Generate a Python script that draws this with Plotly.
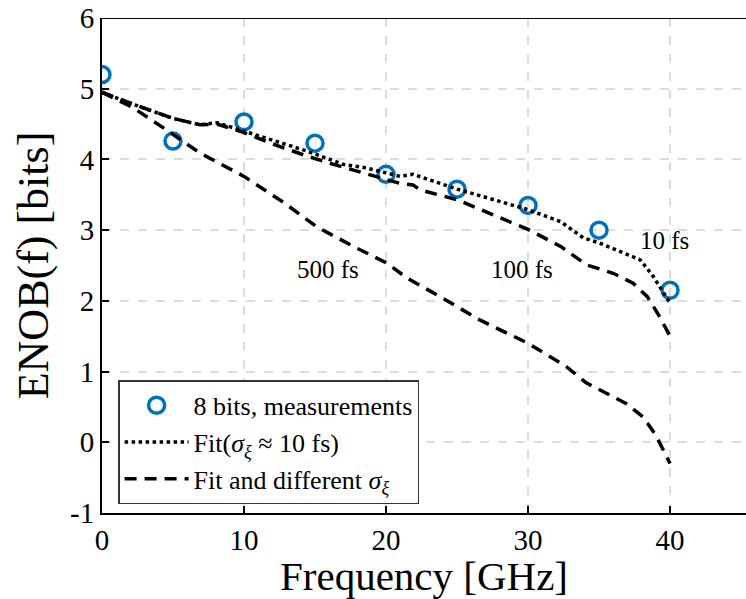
import plotly.graph_objects as go

# Measurements (8 bits)
meas_x = [0, 5, 10, 15, 20, 25, 30, 35, 40]
meas_y = [5.20, 4.26, 4.53, 4.23, 3.79, 3.58, 3.35, 3.00, 2.15]

# Fit, sigma ~ 10 fs (dotted)
fit10_x = [0, 2.2, 5, 6.9, 8.1, 10, 12, 14.4, 17, 18.6, 20, 21, 21.9, 23.3, 25, 27.6, 30, 32.3, 33.9, 35, 37.9, 38.8, 40]
fit10_y = [4.95, 4.78, 4.58, 4.49, 4.52, 4.40, 4.28, 4.12, 3.93, 3.88, 3.81, 3.76, 3.79, 3.69, 3.58, 3.43, 3.29, 3.12, 2.89, 2.82, 2.58, 2.35, 1.97]

# Fit, 100 fs (dashed)
fit100_x = [0, 2.2, 5, 6.9, 8.1, 10, 12, 14.4, 16.3, 18, 20, 21, 21.9, 22.4, 25, 27.5, 30, 32.3, 34.1, 36, 37.4, 38.4, 39.2, 40]
fit100_y = [4.95, 4.78, 4.58, 4.49, 4.50, 4.38, 4.22, 4.05, 3.93, 3.83, 3.72, 3.66, 3.64, 3.57, 3.43, 3.22, 3.01, 2.77, 2.51, 2.39, 2.25, 2.06, 1.80, 1.50]

# Fit, 500 fs (dashed)
fit500_x = [0, 2.2, 4.3, 6.9, 10, 12.8, 15.1, 17.7, 20, 21.5, 23.8, 26.6, 30, 32.7, 34.1, 36.9, 38.1, 39, 40]
fit500_y = [4.95, 4.73, 4.45, 4.09, 3.76, 3.39, 3.05, 2.77, 2.54, 2.32, 2.06, 1.73, 1.40, 1.07, 0.84, 0.55, 0.36, 0.10, -0.30]

labels_text = ["500 fs", "100 fs", "10 fs"]
labels_x = [15.9, 29.6, 39.6]
labels_y = [2.44, 2.44, 2.85]

x_ticks = [0, 10, 20, 30, 40]
y_ticks = [-1, 0, 1, 2, 3, 4, 5, 6]

FONT = "'Liberation Serif', 'Times New Roman', serif"
BLUE = "#0072BD"

fig = go.Figure()

fig.add_trace(go.Scatter(
    x=meas_x, y=meas_y, mode="markers", name="8 bits, measurements",
    marker=dict(symbol="circle-open", size=16, color=BLUE, line=dict(width=3.5, color=BLUE)),
))
fig.add_trace(go.Scatter(
    x=fit10_x, y=fit10_y, mode="lines",
    name="Fit(<i>σ</i><sub><i>ξ</i></sub> ≈ 10 fs)",
    line=dict(color="black", width=3.5, dash="dot"),
))
fig.add_trace(go.Scatter(
    x=fit100_x, y=fit100_y, mode="lines",
    name="Fit and different <i>σ</i><sub><i>ξ</i></sub>", legendgroup="diff",
    line=dict(color="black", width=3.5, dash="12px,8px"),
))
fig.add_trace(go.Scatter(
    x=fit500_x, y=fit500_y, mode="lines", showlegend=False, legendgroup="diff",
    line=dict(color="black", width=3.5, dash="12px,8px"),
))

for t, x, y in zip(labels_text, labels_x, labels_y):
    fig.add_annotation(x=x, y=y, text=t, showarrow=False,
                       font=dict(family=FONT, size=25, color="black"))

# top box line (MATLAB box)
fig.add_shape(type="line", xref="paper", yref="y", x0=0, x1=1, y0=6, y1=6,
              line=dict(color="black", width=2))

fig.update_layout(
    width=746, height=599,
    margin=dict(l=102, r=0, t=18, b=86),
    paper_bgcolor="white", plot_bgcolor="white",
    font=dict(family=FONT, color="black"),
    showlegend=True,
    legend=dict(
        x=0.025, y=0.268, xanchor="left", yanchor="top",
        bgcolor="white", bordercolor="#333", borderwidth=1.5,
        font=dict(family=FONT, size=26, color="black"),
        tracegroupgap=0, itemwidth=64,
    ),
    xaxis=dict(
        range=[0, 45.35], tickvals=x_ticks, ticktext=[str(v) for v in x_ticks],
        showgrid=True, gridcolor="#dcdcdc", gridwidth=1.5, griddash="dash",
        showline=True, linecolor="black", linewidth=2,
        ticks="inside", ticklen=7, tickwidth=1.5, tickcolor="black",
        tickfont=dict(family=FONT, size=29, color="black"),
        title=dict(text="Frequency [GHz]", font=dict(family=FONT, size=41, color="black"), standoff=0),
        zeroline=False,
    ),
    yaxis=dict(
        range=[-1, 6], tickvals=y_ticks, ticktext=[str(v) for v in y_ticks],
        showgrid=True, gridcolor="#dcdcdc", gridwidth=1.5, griddash="dash",
        showline=True, linecolor="black", linewidth=2,
        ticks="inside", ticklen=7, tickwidth=1.5, tickcolor="black",
        tickfont=dict(family=FONT, size=29, color="black"),
        title=dict(text="ENOB(f) [bits]", font=dict(family=FONT, size=44, color="black"), standoff=8),
        zeroline=False,
    ),
)

fig.write_html("out.html")
